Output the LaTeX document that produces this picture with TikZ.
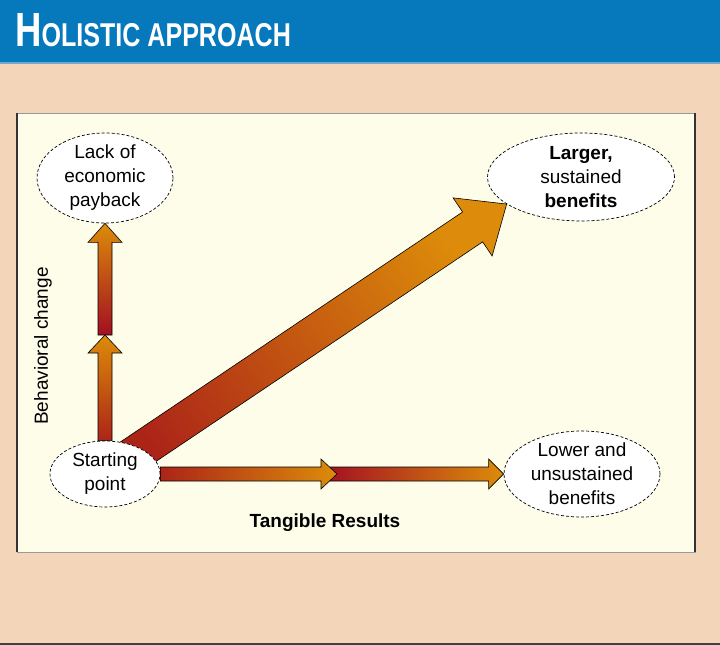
\documentclass[tikz,border=0pt]{standalone}
\usepackage{graphicx}
\usepackage{fontspec}
\setmainfont{Liberation Sans}
\usepackage{tikz}
\usetikzlibrary{calc, shapes.geometric, backgrounds}

\definecolor{headblue}{RGB}{6,120,188}
\definecolor{headline}{RGB}{110,170,210}
\definecolor{peach}{RGB}{243,213,186}
\definecolor{cream}{RGB}{253,253,234}
\definecolor{arrorange}{RGB}{220,140,10}
\definecolor{arrred}{RGB}{172,36,24}
\definecolor{arrcrimson}{RGB}{162,14,34}

% fat arrow: options, from, tip, shaft half width, head half width, head length
\newcommand{\fatarrow}[6]{%
    \coordinate (fa-base) at ($(#3)!#6!(#2)$);
    \path[#1] ($(#2)!#4!90:(#3)$) -- ($(fa-base)!#4!90:(#3)$)
        -- ($(fa-base)!#5!90:(#3)$) -- (#3) -- ($(fa-base)!#5!-90:(#3)$)
        -- ($(fa-base)!#4!-90:(#3)$) -- ($(#2)!#4!-90:(#3)$) -- cycle;
}

\begin{document}
\begin{tikzpicture}[x=1pt, y=-1pt,
            bubble/.style={ellipse, draw=black, densely dashed, line width=0.7pt,
                    fill=white, align=center, inner xsep=0pt, inner ysep=-10pt,
                    font=\fontsize{19}{24}\selectfont},
            fatarr/.style={draw=black, line width=0.6pt, line join=miter},
            axislabel/.style={font=\fontsize{19}{22}\selectfont, inner sep=0pt}
        ]
        \useasboundingbox (0,0) rectangle (720,645);

        % ---------------------------------------------------------------
        % BACKGROUND
        % ---------------------------------------------------------------
        \begin{scope}[on background layer]
            \fill[peach] (0,0) rectangle (720,645);
            \fill[headblue] (0,0) rectangle (720,62);
            \fill[headline] (0,62) rectangle (720,64);
            \fill[black!75] (0,643) rectangle (720,645);
            % panel
            \draw[fill=cream, draw=black!40, line width=0.8pt] (17,113) rectangle (695,552);
            \draw[black!80, line width=1.6pt] (17,113) -- (17,552);
            \draw[black!80, line width=1.6pt] (695,113) -- (695,552);
        \end{scope}

        % Title
        \node[anchor=base west, text=white, font=\bfseries, inner sep=0pt] (title) at (15,46)
            {\scalebox{0.76}[1]{{\fontsize{48}{48}\selectfont H}{\fontsize{33}{33}\selectfont OLISTIC APPROACH}}};

        % ---------------------------------------------------------------
        % NODES
        % ---------------------------------------------------------------
        \node[bubble, minimum width=136pt, minimum height=90pt] (lack) at (105,178)
            {Lack of\\economic\\payback};
        \node[bubble, minimum width=187pt, minimum height=88pt] (larger) at (581,177)
            {\textbf{Larger,}\\sustained\\\textbf{benefits}};
        \node[bubble, minimum width=110pt, minimum height=66pt] (start) at (105,474)
            {Starting\\point};
        \node[bubble, minimum width=156pt, minimum height=86pt] (lower) at (582,474)
            {Lower and\\unsustained\\benefits};

        \coordinate (vmid) at (105,335);
        \coordinate (htail) at (322,474);
        \coordinate (hmid) at (337,474);

        % Axis labels
        \node[axislabel, rotate=90] (ylabel) at (43,346) {Behavioral change};
        \node[axislabel, font=\fontsize{19}{22}\selectfont\bfseries] (xlabel) at (325,523) {Tangible Results};

        % ---------------------------------------------------------------
        % ARROWS
        % ---------------------------------------------------------------
        \begin{scope}[on background layer]
            \fatarrow{fatarr, top color=arrorange, bottom color=arrred, shading angle=-56}{start.center}{larger.200}{18pt}{35pt}{41pt}
            \fatarrow{fatarr, top color=arrorange, bottom color=arrred}{start.north}{vmid}{7pt}{17pt}{18pt}
            \fatarrow{fatarr, top color=arrorange, bottom color=arrcrimson}{vmid}{lack.south}{7pt}{17pt}{19pt}
            \fatarrow{fatarr, left color=arrcrimson, right color=arrorange}{htail}{lower.west}{7pt}{15pt}{15pt}
            \fatarrow{fatarr, left color=arrred, right color=arrorange}{start.east}{hmid}{7pt}{15pt}{16pt}
        \end{scope}

    \end{tikzpicture}
\end{document}
